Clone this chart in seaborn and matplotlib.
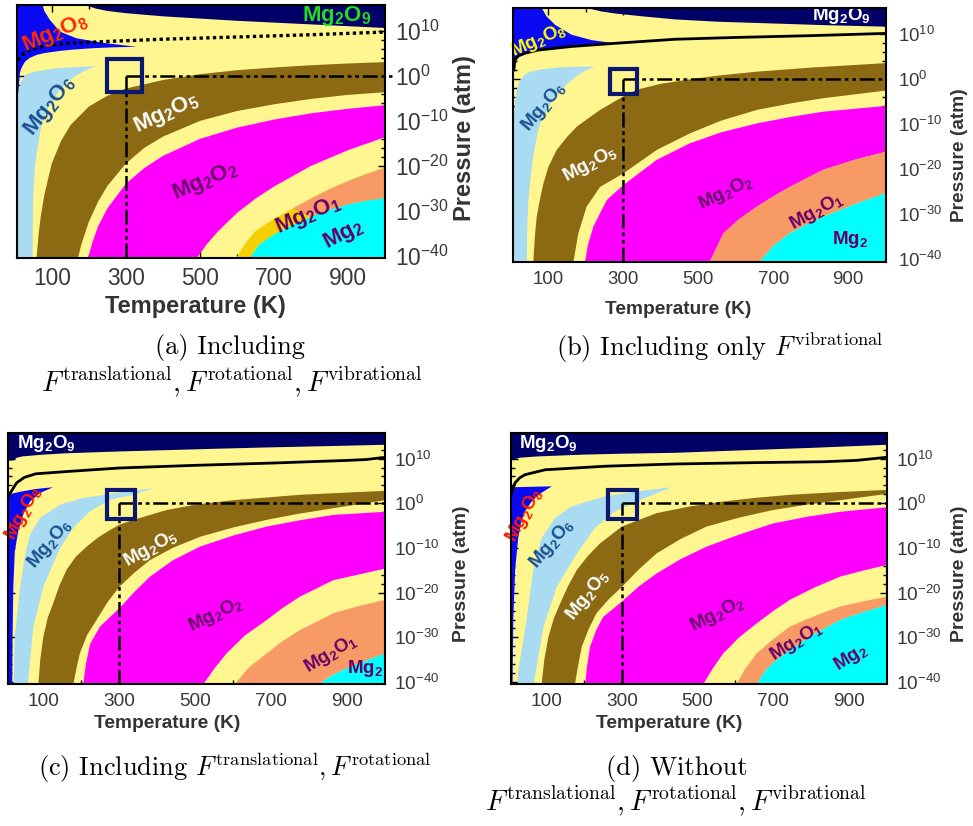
import numpy as np
import matplotlib
matplotlib.use("Agg")
import matplotlib.pyplot as plt
import seaborn as sns
from matplotlib.ticker import FixedLocator, NullFormatter
from matplotlib.patches import Rectangle

sns.set_theme(style="white")
plt.rcParams.update({
    "font.family": ["Liberation Sans", "DejaVu Sans"],
    "mathtext.fontset": "custom",
    "mathtext.rm": "Liberation Sans",
    "mathtext.it": "Liberation Sans:italic",
    "mathtext.bf": "Liberation Sans:bold",
    "mathtext.default": "regular",
    "axes.unicode_minus": True,
})

W, H = 973, 826
T_LIM = (6, 1000)
P_LIM = (-40.5, 15.8)
BOTTOM, TOP, LEFT, RIGHT = -43.0, 18.0, -5.0, 1010.0

C_YELLOW = "#FFF68F"
C_NAVY = "#000066"
C_BLUE = "#0A0AF2"
C_LBLUE = "#A9DCF2"
C_BROWN = "#8C6A14"
C_MAGENTA = "#FF00FF"
C_SALMON = "#F89A66"
C_CYAN = "#00FFFF"
C_GOLD = "#F5D000"
C_BOX = "#0B1870"
C_PURPLE = "#660066"
C_DBLUE = "#1B4F8F"

temp_ticks = [100, 300, 500, 700, 900]
temp_minor = [200, 400, 600, 800]
pres_ticks = [-40, -30, -20, -10, 0, 10]

# ---------------- (a) all free-energy terms ----------------
a_navy = [(190, 15.8), (220, 15.0), (250, 14.5), (300, 14.0), (400, 13.3), (500, 12.8),
          (600, 12.3), (700, 11.9), (800, 11.5), (900, 11.1), (1000, 10.7)]
a_line = [(8, 3.5), (15, 4.2), (25, 5.0), (40, 5.8), (80, 6.7), (150, 7.3), (250, 7.7),
          (400, 8.2), (600, 8.7), (800, 9.2), (1000, 9.8)]
a_o8 = [(0, 16.5), (73, 16.5), (80, 14.5), (95, 12.5), (122, 9.9), (167, 8.4), (239, 7.4),
        (329, 6.5), (270, 6.4), (212, 6.2), (160, 5.9), (122, 5.6), (80, 5.1), (59, 4.7),
        (40, 4.0), (28, 3.2), (18, 1.8), (14, 0.6), (11, -2.5), (10, -5.3), (7, -6), (0, -6)]
a_o6 = [(0, -8), (5, -7), (10, -3.5), (16, -1.6), (28, 0.2), (50, 0.9), (77, 1.3), (110, 1.7),
        (149, 1.9), (190, 2.1), (221, 2.2), (200, 1.6), (167, 0.2), (140, -1.5), (122, -3.1),
        (100, -5.8), (86, -7.6), (75, -10), (68, -12.8), (60, -17), (55, -20), (52, -24),
        (50, -27.6), (49, -33), (48, -43), (0, -43)]
a_o5_up = [(59, -40.5), (65, -35), (70, -31.5), (80, -26.5), (100, -19.5), (125, -14.5),
           (150, -11), (200, -6.8), (250, -4.4), (300, -2.8), (400, -0.9), (500, 0.4),
           (600, 1.3), (700, 1.9), (800, 2.4), (900, 2.8), (1000, 3.1)]
a_o5_lo = [(171, -40.5), (180, -37.5), (200, -32.5), (225, -28), (250, -24.5), (300, -19.5),
           (350, -16), (400, -13.5), (500, -10), (600, -7.8), (700, -6.3), (800, -5.1),
           (900, -4.2), (1000, -3.6)]
a_o2_up = [(198, -40.5), (210, -37), (225, -33.5), (250, -29.5), (300, -24), (350, -20.5),
           (400, -17.8), (500, -14), (600, -11.5), (700, -9.7), (800, -8.3), (900, -7.3),
           (1000, -6.5)]
a_o2_lo = [(492, -40.5), (520, -37.3), (550, -34.5), (600, -30.5), (650, -27.3), (700, -24.6),
           (800, -20), (900, -16.5), (1000, -13.6)]
a_gold_up = [(598, -40.5), (620, -37.5), (650, -34.5), (700, -31.8), (750, -29.5), (800, -27.3),
             (850, -25.2), (900, -23.4), (950, -21.8), (1000, -20.4)]
a_mg2_up = [(635, -40.5), (660, -37.5), (700, -35.3), (750, -33.2), (800, -31.4), (850, -29.8),
            (900, -28.6), (950, -27.8), (1000, -27.2)]
a_o1 = [(750, -29.5), (800, -27.3), (850, -25.2), (900, -23.4), (950, -21.8), (1000, -20.4),
        (1010, -20.4), (1010, -27.2), (1000, -27.2), (950, -27.8), (900, -28.6), (850, -29.8),
        (800, -31.4)]
a_box = (250, 343, -3.5, 3.7)

# ---------------- (b) vibrational only ----------------
b_navy = [(205, 15.8), (240, 15.1), (280, 14.6), (350, 14.0), (440, 13.3), (550, 12.8),
          (700, 12.4), (850, 12.0), (1000, 11.7)]
b_line = [(8, 2.0), (11, 4.3), (20, 5.2), (38, 5.8), (73, 6.5), (162, 7.3), (278, 8.0),
          (438, 8.9), (600, 9.3), (800, 9.7), (1000, 10.2)]
b_o8 = [(0, 16.5), (78, 16.5), (95, 14.0), (118, 12.1), (162, 9.9), (216, 8.7), (278, 8.0),
        (162, 7.3), (73, 6.5), (38, 5.8), (20, 5.2), (11, 4.3), (8, 2.0), (7, -4.6), (0, -4.6)]
b_o6 = [(0, -10), (7, -9.8), (12, -4), (20, -0.9), (35, 0.9), (51, 1.7), (80, 2.2), (122, 2.6),
        (170, 2.8), (224, 2.8), (200, 2.0), (180, 1.0), (150, -1.0), (127, -3.1), (105, -5.5),
        (91, -7.6), (80, -9.5), (73, -11.3), (62, -16), (56, -19.4), (50, -24), (47, -26.8),
        (44, -32), (42, -43), (0, -43)]
b_o5_up = [(60, -40.5), (64, -35), (69, -30.5), (78, -26.5), (87, -23.1), (100, -19.5),
           (122, -15.7), (150, -12.8), (176, -10.5), (238, -6.8), (300, -3.8), (336, -2.3),
           (400, -1.0), (478, 0), (550, 0.8), (656, 1.7), (800, 2.6), (1000, 3.6)]
b_o5_lo = [(167, -40.5), (180, -34.2), (202, -28.3), (238, -23.9), (300, -20.9), (389, -15.7),
           (478, -12), (560, -9.2), (656, -6.8), (750, -5.3), (833, -4.2), (1000, -2.5)]
b_o2_up = [(198, -40.5), (205, -37), (220, -32.7), (256, -26.8), (300, -23.5), (389, -17.9),
           (478, -14.2), (560, -11.8), (656, -9.8), (750, -8.3), (833, -7.2), (1000, -5.9)]
b_o1_up = [(531, -40.5), (567, -34.2), (610, -31), (656, -28.3), (700, -26), (744, -23.9),
           (833, -20.1), (920, -17.8), (1000, -16.1)]
b_mg2_up = [(664, -40.5), (700, -37), (744, -34.2), (790, -32.2), (833, -30.5), (880, -29),
            (922, -27.6), (1000, -25.3)]
b_box = (265, 336, -3.3, 2.4)

# ---------------- (c) translational + rotational ----------------
c_navy = [(-5, 9.5), (21, 9.6), (30, 10.2), (45, 10.5), (100, 10.9), (161, 11.2), (300, 11.6),
          (425, 11.9), (550, 12.2), (688, 12.5), (850, 12.8), (1000, 13.1)]
c_line = [(8, 1.5), (12, 2.2), (18, 3.0), (30, 4.6), (50, 5.8), (80, 6.6), (160, 7.1),
          (300, 7.9), (500, 8.5), (700, 9.0), (900, 9.6), (950, 9.8), (1000, 10.3)]
c_o8 = [(0, 1.6), (4, 1.9), (40, 2.6), (80, 3.2), (126, 3.6), (91, 2.3), (65, 0.4), (47, -2.5),
        (34, -6.3), (25, -10.7), (21, -18.7), (19, -30), (18, -43), (0, -43)]
c_o6 = [(21, -43), (25, -29.9), (39, -18.7), (52, -11.5), (65, -7.0), (91, -3.3), (144, -0.3),
        (205, 1.2), (293, 2.3), (389, 3.4), (337, 1.9), (275, 0.8), (223, -1.8), (179, -5.5),
        (144, -10), (100, -18.7), (74, -27.6), (56, -43)]
c_o5_up = [(87, -40.5), (92, -35), (100, -29.9), (112, -25.5), (126, -22.4), (142, -18.5),
           (161, -14.9), (185, -12), (214, -9.7), (245, -7.6), (275, -6.0), (300, -4.8),
           (337, -3.7), (425, -1.5), (500, -0.3), (600, 0.7), (775, 1.9), (1000, 2.8)]
c_o5_lo = [(179, -40.5), (187, -37), (196, -33.6), (215, -29.5), (240, -26.1), (270, -22),
           (300, -18.7), (340, -15.5), (381, -12.7), (440, -10), (512, -7.5), (600, -5.4),
           (688, -3.7), (775, -2.3), (863, -1.1), (1000, 0.7)]
c_o2_up = [(205, -40.5), (212, -36), (223, -31.5), (249, -27.6), (300, -23.5), (340, -19.8),
           (381, -16.4), (440, -12.8), (512, -9.7), (600, -7.2), (688, -5.2), (775, -3.8),
           (863, -2.6), (1000, -1.9)]
c_o2_lo = [(521, -40.5), (550, -37), (582, -33.6), (630, -29.6), (688, -26.1), (730, -23.4),
           (775, -20.9), (863, -17.2), (1000, -14.6)]
c_o1_up = [(604, -40.5), (640, -36.8), (688, -33.6), (730, -30.8), (775, -28.4), (863, -24.6),
           (930, -23), (1000, -21.6)]
c_mg2_up = [(824, -40.5), (860, -38.5), (907, -36.6), (950, -35.2), (1000, -33.6)]
c_box = (267, 341, -3.4, 3.0)

# ---------------- (d) no free-energy terms ----------------
d_navy = [(-5, 9.6), (13, 9.8), (30, 10.2), (79, 10.5), (200, 10.9), (300, 11.1), (440, 11.3),
          (600, 11.8), (800, 12.4), (1000, 13.1)]
d_line = [(8, 2.0), (12, 3.3), (18, 4.6), (30, 5.7), (44, 6.4), (97, 7.5), (256, 8.3),
          (441, 8.8), (650, 9.1), (833, 9.3), (920, 9.6), (1000, 10.3)]
d_o8 = [(0, 3.5), (13, 3.6), (60, 3.7), (115, 3.8), (79, 1.9), (60, 0.2), (44, -1.8), (33, -4.5),
        (26, -7.8), (18, -14.9), (13, -26.1), (11, -43), (0, -43)]
d_o6 = [(22, -43), (27, -37), (35, -33), (48, -26.1), (66, -14.9), (88, -7.8), (123, -3.3),
        (167, -0.7), (256, 1.6), (344, 2.7), (432, 3.6), (361, 1.2), (282, -1.8), (229, -5.5),
        (185, -10.7), (128, -18.7), (93, -27.6), (62, -43)]
d_o5_up = [(88, -40.5), (95, -35), (106, -29.9), (120, -25.8), (137, -22.4), (158, -18.5),
           (181, -14.9), (210, -11.8), (242, -9.0), (300, -5.2), (392, -2.2), (480, -0.7),
           (568, 0.4), (650, 1.2), (744, 1.9), (870, 2.5), (1000, 3.0)]
d_o5_lo = [(176, -40.5), (184, -36.5), (194, -32.1), (212, -28.2), (233, -24.6), (265, -21.5),
           (300, -18.7), (345, -14.8), (392, -11.2), (455, -8.0), (524, -5.2), (610, -3.2),
           (700, -1.5), (790, -0.3), (877, 0.7), (1000, 2.1)]
d_o2_up = [(203, -40.5), (208, -36.5), (216, -32.1), (232, -28.4), (251, -25.4), (300, -22.0),
           (345, -18.6), (392, -15.7), (455, -12.5), (524, -9.7), (610, -7.0), (700, -4.5),
           (790, -3.0), (877, -1.9), (1000, -0.9)]
d_o2_lo = [(515, -40.5), (540, -37), (568, -33.6), (610, -30.0), (656, -26.9), (700, -24.1),
           (744, -21.6), (810, -18.8), (877, -16.4), (940, -15.0), (1000, -13.8)]
d_o1_up = [(603, -40.5), (625, -37.2), (656, -33.6), (700, -30.4), (744, -27.6), (810, -25.2),
           (877, -23.1), (940, -21.9), (1000, -20.9)]
d_mg2_up = [(656, -40.5), (680, -37.3), (710, -35), (744, -32.8), (810, -29.2), (877, -26.1),
            (940, -24.3), (1000, -22.8)]
d_box = (264, 339, -3.4, 3.0)

# phase labels: text, T, log10 P, rotation, colour
a_labels = [("Mg$_2$O$_9$", 869, 13.3, 0, "#22DD22"), ("Mg$_2$O$_8$", 109, 9.6, 23, "#FF2A00"),
            ("Mg$_2$O$_6$", 95, -6.8, 52, C_DBLUE), ("Mg$_2$O$_5$", 410, -8.3, 25, "white"),
            ("Mg$_2$O$_2$", 513, -23.5, 23, C_PURPLE), ("Mg$_2$O$_1$", 792, -31, 23, C_PURPLE),
            ("Mg$_2$", 887, -35.4, 27, C_PURPLE)]
b_labels = [("Mg$_2$O$_9$", 882, 14.1, 0, "white"), ("Mg$_2$O$_8$", 75, 8.7, 24, "#FFFF00"),
            ("Mg$_2$O$_6$", 87, -6.2, 50, C_DBLUE), ("Mg$_2$O$_5$", 211, -18.7, 28, "white"),
            ("Mg$_2$O$_2$", 574, -25.3, 26, C_PURPLE), ("Mg$_2$O$_1$", 816, -29.4, 29, C_PURPLE),
            ("Mg$_2$", 904, -35.7, 0, C_PURPLE)]
c_labels = [("Mg$_2$O$_9$", 109, 13.3, 0, "white"), ("Mg$_2$O$_8$", 47, -2.2, 62, "#FF1A00"),
            ("Mg$_2$O$_6$", 118, -9.0, 50, C_DBLUE), ("Mg$_2$O$_5$", 382, -10.1, 29, "white"),
            ("Mg$_2$O$_2$", 553, -25.0, 26, C_PURPLE), ("Mg$_2$O$_1$", 856, -33.6, 31, C_PURPLE),
            ("Mg$_2$", 947, -36.9, 0, C_PURPLE)]
d_labels = [("Mg$_2$O$_9$", 106, 13.3, 0, "white"), ("Mg$_2$O$_8$", 44, -2.6, 62, "#FF1A00"),
            ("Mg$_2$O$_6$", 115, -9.0, 50, C_DBLUE), ("Mg$_2$O$_5$", 211, -20.5, 52, "white"),
            ("Mg$_2$O$_2$", 552, -24.8, 27, C_PURPLE), ("Mg$_2$O$_1$", 762, -31.0, 32, C_PURPLE),
            ("Mg$_2$", 905, -34.5, 32, C_PURPLE)]


def arr(points):
    a = np.asarray(points, dtype=float)
    return a[:, 0], a[:, 1]


def fill_poly(ax, points, color):
    x, y = arr(points)
    ax.fill(x, y, color=color, lw=0, zorder=1)


def fill_band(ax, upper, lower, color):
    pts = ([(upper[0][0], BOTTOM)] + list(upper) + [(RIGHT, upper[-1][1]), (RIGHT, lower[-1][1])]
           + list(lower[::-1]) + [(lower[0][0], BOTTOM)])
    fill_poly(ax, pts, color)


def fill_top(ax, curve, color):
    pts = [(curve[0][0], TOP)] + list(curve) + [(RIGHT, curve[-1][1]), (RIGHT, TOP)]
    fill_poly(ax, pts, color)


def fill_bottom(ax, curve, color):
    pts = [(curve[0][0], BOTTOM)] + list(curve) + [(RIGHT, curve[-1][1]), (RIGHT, BOTTOM)]
    fill_poly(ax, pts, color)


def px_axes(fig, left, right, top, bottom):
    return fig.add_axes([left / W, 1 - bottom / H, (right - left) / W, (bottom - top) / H])


def style_axes(ax, tick_fs, xpad, ypad):
    ax.set_xlim(*T_LIM)
    ax.set_ylim(*P_LIM)
    ax.set_facecolor(C_YELLOW)
    ax.xaxis.set_major_locator(FixedLocator(temp_ticks))
    ax.xaxis.set_minor_locator(FixedLocator(temp_minor))
    ax.xaxis.set_minor_formatter(NullFormatter())
    ax.yaxis.set_major_locator(FixedLocator(pres_ticks))
    ax.yaxis.set_minor_locator(FixedLocator(np.arange(-40, 16, 2)))
    ax.yaxis.set_minor_formatter(NullFormatter())
    ax.set_xticklabels([str(t) for t in temp_ticks])
    ax.set_yticklabels([r"$10^{%d}$" % p for p in pres_ticks])
    ax.tick_params(which="both", direction="in", top=True, bottom=True, left=True, right=True,
                   labelleft=False, labelright=True, labelbottom=True, color="black", width=1)
    ax.tick_params(which="major", length=5)
    ax.tick_params(which="minor", length=3)
    ax.tick_params(axis="x", labelsize=tick_fs, labelcolor="#383838", pad=xpad)
    ax.tick_params(axis="y", labelsize=tick_fs, labelcolor="#383838", pad=ypad)
    for s in ax.spines.values():
        s.set_visible(True)
        s.set_color("black")
        s.set_linewidth(1.5)
        s.set_zorder(6)


def draw_panel(ax, navy, line, o8, o6, o5_up, o5_lo, o2_up, o2_lo, o1_up, mg2_up, box,
               labels, label_fs, dotted=False, gold=None, o1_part=None, guide_ext=1000):
    fill_top(ax, navy, C_NAVY)
    fill_poly(ax, o8, C_BLUE)
    fill_poly(ax, o6, C_LBLUE)
    fill_band(ax, o5_up, o5_lo, C_BROWN)
    fill_band(ax, o2_up, o2_lo, C_MAGENTA)
    if gold is not None:
        fill_band(ax, gold, mg2_up, C_GOLD)
        fill_poly(ax, o1_part, C_SALMON)
    else:
        fill_band(ax, o1_up, mg2_up, C_SALMON)
    fill_bottom(ax, mg2_up, C_CYAN)

    lx, ly = arr(line)
    sns.lineplot(x=lx, y=ly, ax=ax, color="black", lw=2.4 if dotted else 2.0,
                 linestyle=(0, (1, 1)) if dotted else "-", sort=False, estimator=None,
                 legend=False, zorder=3)

    guide = dict(color="black", lw=1.8, linestyle=(0, (6, 1.5, 1.5, 1.5, 1.5, 1.5)), zorder=4)
    ax.plot([300, 300], [P_LIM[0], 0], **guide)
    ax.plot([300, guide_ext], [0, 0], clip_on=False, **guide)

    x0, x1, y0, y1 = box
    ax.add_patch(Rectangle((x0, y0), x1 - x0, y1 - y0, fill=False, ec=C_BOX, lw=3, zorder=5))

    for text, t, p, rot, col in labels:
        ax.text(t, p, text, rotation=rot, color=col, fontsize=label_fs, fontweight="bold",
                ha="center", va="center", rotation_mode="anchor", zorder=5)


fig = plt.figure(figsize=(W / 100, H / 100), dpi=100)
fig.patch.set_facecolor("white")

ax_a = px_axes(fig, 16.9, 385.3, 5.1, 257.8)
ax_b = px_axes(fig, 513.1, 885.8, 8.2, 261.6)
ax_c = px_axes(fig, 7.6, 385.3, 432.7, 684.3)
ax_d = px_axes(fig, 510.6, 886.7, 432.7, 684.3)

style_axes(ax_a, 16.4, 6.5, 7)
style_axes(ax_b, 13.4, 7, 8.5)
style_axes(ax_c, 13.7, 6, 6)
style_axes(ax_d, 13.7, 6, 7)

draw_panel(ax_a, a_navy, a_line, a_o8, a_o6, a_o5_up, a_o5_lo, a_o2_up, a_o2_lo, None, a_mg2_up,
           a_box, a_labels, 16, dotted=True, gold=a_gold_up, o1_part=a_o1, guide_ext=1018)
draw_panel(ax_b, b_navy, b_line, b_o8, b_o6, b_o5_up, b_o5_lo, b_o2_up, b_o1_up, b_o1_up, b_mg2_up,
           b_box, b_labels, 13.5)
draw_panel(ax_c, c_navy, c_line, c_o8, c_o6, c_o5_up, c_o5_lo, c_o2_up, c_o2_lo, c_o1_up, c_mg2_up,
           c_box, c_labels, 13.5)
draw_panel(ax_d, d_navy, d_line, d_o8, d_o6, d_o5_up, d_o5_lo, d_o2_up, d_o2_lo, d_o1_up, d_mg2_up,
           d_box, d_labels, 13.5)


def ftext(x, y, s, **kw):
    fig.text(x / W, 1 - y / H, s, ha="center", va="center", **kw)


# axis titles
ax_title = dict(fontweight="bold", color="#333333")
ftext(195, 306, "Temperature (K)", fontsize=17, **ax_title)
ftext(678, 309, "Temperature (K)", fontsize=13.8, **ax_title)
ftext(167, 724, "Temperature (K)", fontsize=13.8, **ax_title)
ftext(669, 724, "Temperature (K)", fontsize=13.8, **ax_title)
ftext(465, 138, "Pressure (atm)", fontsize=17, rotation=90, **ax_title)
ftext(960, 155, "Pressure (atm)", fontsize=13.8, rotation=90, **ax_title)
ftext(461, 574, "Pressure (atm)", fontsize=14, rotation=90, **ax_title)
ftext(960, 574, "Pressure (atm)", fontsize=14, rotation=90, **ax_title)

# sub-figure captions
cap = dict(fontfamily="cmr10", math_fontfamily="cm", fontsize=19, color="black")
terms3 = (r"$\mathit{F}^{\mathrm{translational}}, \mathit{F}^{\mathrm{rotational}}, "
          r"\mathit{F}^{\mathrm{vibrational}}$")
ftext(230, 348, "(a) Including", **cap)
ftext(232, 382, terms3, **{**cap, "fontsize": 20.3})
ftext(720, 348, r"(b) Including only $\mathit{F}^{\mathrm{vibrational}}$", **cap)
ftext(235, 768, r"(c) Including $\mathit{F}^{\mathrm{translational}}, \mathit{F}^{\mathrm{rotational}}$", **cap)
ftext(677, 768, "(d) Without", **cap)
ftext(676, 801, terms3, **{**cap, "fontsize": 20.3})

fig.savefig("out.png", dpi=100, facecolor="white")
